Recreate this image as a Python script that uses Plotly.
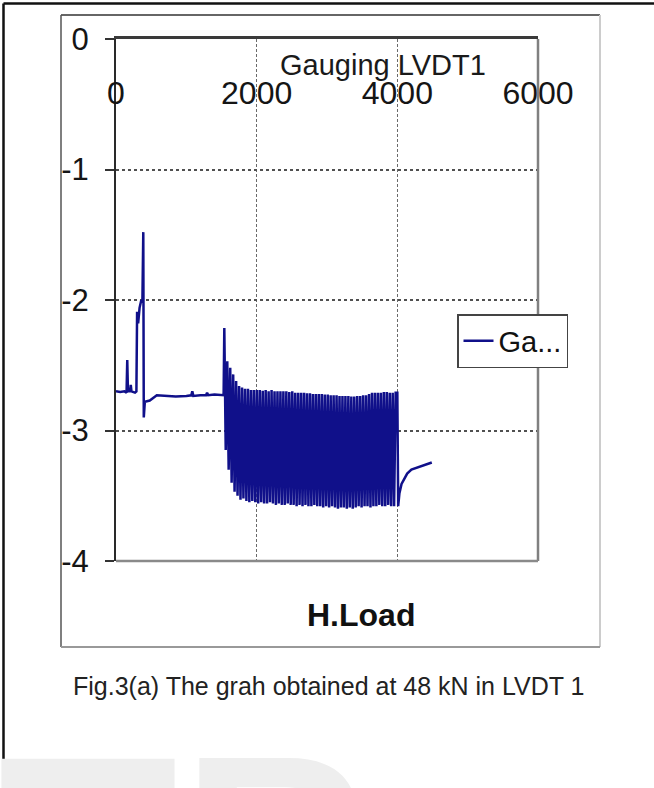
import plotly.graph_objects as go

# ---------------- data ----------------
# initial (pre-cycling) segment: H.Load vs gauging reading
pre_x = [0, 60, 120, 150, 160, 170, 200, 210, 220, 270, 290, 300, 315, 335, 360, 375, 388,
         395, 410, 480, 580, 700, 850, 1000, 1070, 1085, 1100, 1200, 1280, 1295, 1310,
         1400, 1500, 1530, 1540]
pre_y = [-2.70, -2.705, -2.70, -2.71, -2.46, -2.70, -2.70, -2.65, -2.70, -2.71, -2.70, -2.09,
         -2.18, -2.06, -2.00, -2.02, -1.48, -2.90, -2.78, -2.77, -2.73, -2.735, -2.74, -2.735,
         -2.73, -2.70, -2.735, -2.73, -2.73, -2.71, -2.73, -2.725, -2.73, -2.73, -2.215]

# cyclic segment: troughs and peaks
trough_x = [1560, 1602, 1644, 1686, 1728, 1770, 1812, 1854, 1896, 1938, 1980, 2022, 2064, 2106,
            2148, 2190, 2232, 2274, 2316, 2358, 2400, 2442, 2484, 2526, 2568, 2610, 2652, 2694,
            2736, 2778, 2820, 2862, 2904, 2946, 2988, 3030, 3072, 3114, 3156, 3198, 3240, 3282,
            3324, 3366, 3408, 3450, 3492, 3534, 3576, 3618, 3660, 3702, 3744, 3786, 3828, 3870,
            3912, 3954]
trough_y = [-3.15, -3.30, -3.40, -3.47, -3.50, -3.53, -3.52, -3.54, -3.55, -3.54, -3.55, -3.56,
            -3.55, -3.56, -3.56, -3.55, -3.56, -3.57, -3.56, -3.57, -3.57, -3.56, -3.57, -3.57,
            -3.58, -3.57, -3.58, -3.57, -3.58, -3.58, -3.57, -3.58, -3.58, -3.59, -3.58, -3.59,
            -3.58, -3.59, -3.60, -3.59, -3.59, -3.60, -3.59, -3.60, -3.59, -3.58, -3.59, -3.58,
            -3.58, -3.59, -3.58, -3.58, -3.57, -3.58, -3.58, -3.57, -3.58, -3.58]
peak_x = [1582, 1624, 1666, 1708, 1750, 1792, 1834, 1876, 1918, 1960, 2002, 2044, 2086, 2128,
          2170, 2212, 2254, 2296, 2338, 2380, 2422, 2464, 2506, 2548, 2590, 2632, 2674, 2716,
          2758, 2800, 2842, 2884, 2926, 2968, 3010, 3052, 3094, 3136, 3178, 3220, 3262, 3304,
          3346, 3388, 3430, 3472, 3514, 3556, 3598, 3640, 3682, 3724, 3766, 3808, 3850, 3892,
          3934, 3976]
peak_y = [-2.47, -2.52, -2.57, -2.62, -2.66, -2.67, -2.68, -2.68, -2.69, -2.69, -2.69, -2.69,
          -2.695, -2.69, -2.70, -2.69, -2.70, -2.70, -2.70, -2.70, -2.70, -2.705, -2.70, -2.71,
          -2.71, -2.71, -2.71, -2.715, -2.715, -2.72, -2.72, -2.72, -2.72, -2.725, -2.725, -2.73,
          -2.73, -2.73, -2.735, -2.735, -2.735, -2.735, -2.74, -2.74, -2.735, -2.735, -2.73,
          -2.73, -2.72, -2.71, -2.71, -2.71, -2.71, -2.705, -2.705, -2.71, -2.71, -2.71]

# final recovery segment
post_x = [4000, 4012, 4030, 4060, 4100, 4140, 4200, 4300, 4400, 4490]
post_y = [-2.71, -3.58, -3.48, -3.41, -3.37, -3.33, -3.30, -3.28, -3.26, -3.245]

x_ticks = [0, 2000, 4000, 6000]
x_ticktext = ["0", "2000", "4000", "6000"]
y_ticks = [0, -1, -2, -3, -4]
y_ticktext = ["0", "-1", "-2", "-3", "-4"]

series_name = "Ga..."
chart_title = "Gauging LVDT1"
x_title = "H.Load"
caption = "Fig.3(a) The grah obtained at 48 kN in LVDT 1"

# ---------------- build series ----------------
xs = list(pre_x)
ys = list(pre_y)
for tx, ty, px_, py_ in zip(trough_x, trough_y, peak_x, peak_y):
    xs += [tx, px_]
    ys += [ty, py_]
xs += post_x
ys += post_y

# ---------------- layout geometry ----------------
W, H = 654, 788
L, R, T, B = 116, 538, 39, 561  # plot area in pixels


def fx(p):
    return (p - L) / (R - L)


def fy(p):
    return (B - p) / (B - T)


SANS = "Liberation Sans, Arial, sans-serif"

fig = go.Figure()
fig.add_trace(go.Scatter(
    x=xs, y=ys, mode="lines", name=series_name,
    line=dict(color="#10108a", width=2.5),
    showlegend=True,
))

shapes = [
    # outer page frame (top and left)
    dict(type="line", xref="paper", yref="paper", x0=fx(3.5), x1=fx(700), y0=fy(3.5), y1=fy(3.5),
         line=dict(color="#111111", width=2.5)),
    dict(type="line", xref="paper", yref="paper", x0=fx(3.5), x1=fx(3.5), y0=fy(3.5), y1=fy(820),
         line=dict(color="#111111", width=2.5)),
    # chart box
    dict(type="line", xref="paper", yref="paper", x0=fx(61), x1=fx(600), y0=fy(15), y1=fy(15),
         line=dict(color="#666666", width=2)),
    dict(type="line", xref="paper", yref="paper", x0=fx(61), x1=fx(61), y0=fy(15), y1=fy(647),
         line=dict(color="#555555", width=1.5)),
    dict(type="line", xref="paper", yref="paper", x0=fx(600), x1=fx(600), y0=fy(15), y1=fy(647),
         line=dict(color="#cccccc", width=2)),
    dict(type="line", xref="paper", yref="paper", x0=fx(61), x1=fx(600), y0=fy(647), y1=fy(647),
         line=dict(color="#999999", width=2)),
    # plot area right and bottom borders
    dict(type="line", xref="x domain", yref="y domain", x0=1, x1=1, y0=0, y1=1,
         line=dict(color="#808080", width=2.5), layer="above"),
    dict(type="line", xref="x domain", yref="y domain", x0=0, x1=1, y0=0, y1=0,
         line=dict(color="#8a8a8a", width=2.5), layer="above"),
]

annotations = [
    dict(text=chart_title, xref="paper", yref="paper", x=fx(383), y=fy(65),
         xanchor="center", yanchor="middle", showarrow=False,
         font=dict(family=SANS, size=29, color="#1a1a1a")),
    dict(text=x_title, xref="paper", yref="paper", x=fx(361), y=fy(615),
         xanchor="center", yanchor="middle", showarrow=False,
         font=dict(family=SANS, size=32, color="#111111", weight="bold")),
    dict(text=caption, xref="paper", yref="paper", x=fx(328), y=fy(686),
         xanchor="center", yanchor="middle", showarrow=False,
         font=dict(family=SANS, size=25, color="#222222")),
    # watermark letters (only their tops are visible)
    dict(text="E", xref="paper", yref="paper", x=fx(-22), y=fy(687),
         xanchor="left", yanchor="top", showarrow=False,
         font=dict(family=SANS, size=320, color="#eeeeee", weight="bold")),
    dict(text="R", xref="paper", yref="paper", x=fx(180), y=fy(700),
         xanchor="left", yanchor="top", showarrow=False,
         font=dict(family=SANS, size=260, color="#eeeeee", weight="bold")),
]

fig.update_layout(
    width=W, height=H, autosize=False,
    margin=dict(l=L, r=W - R, t=T, b=H - B),
    paper_bgcolor="white", plot_bgcolor="white",
    shapes=shapes, annotations=annotations,
    showlegend=True,
    legend=dict(x=fx(457), y=fy(341), xanchor="left", yanchor="middle",
                bgcolor="white", bordercolor="#444444", borderwidth=1.5,
                font=dict(family=SANS, size=29, color="#111111")),
    xaxis=dict(
        range=[0, 6000], side="top", tickmode="array", tickvals=x_ticks, ticktext=x_ticktext,
        ticklabelposition="inside", ticklabeloverflow="allow", ticklabelstandoff=46,
        ticks="", showline=True, linecolor="#3a3a3a", linewidth=3,
        showgrid=True, gridcolor="#6a6a6a", gridwidth=1, griddash="3px,2px",
        zeroline=False, tickfont=dict(family=SANS, size=32, color="#151515"),
        fixedrange=True,
    ),
    yaxis=dict(
        range=[-4, 0], tickmode="array", tickvals=y_ticks, ticktext=y_ticktext,
        ticks="outside", ticklen=9, tickwidth=2, tickcolor="#333333",
        ticklabelstandoff=10,
        showline=True, linecolor="#2a2a2a", linewidth=2,
        showgrid=True, gridcolor="#505050", gridwidth=2, griddash="dot",
        zeroline=False, tickfont=dict(family=SANS, size=31, color="#151515"),
        fixedrange=True,
    ),
)

fig.write_html("out.html")
